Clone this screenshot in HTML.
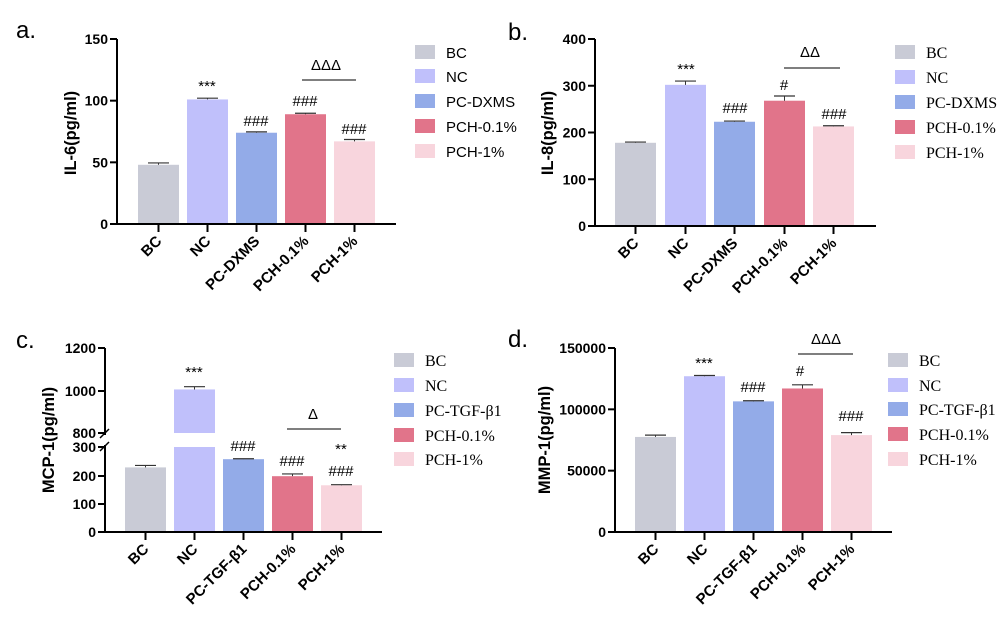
<!DOCTYPE html>
<html><head><meta charset="utf-8"><style>
html,body{margin:0;padding:0;background:#fff;}
svg{display:block;}
</style></head><body>
<svg id="s" width="1008" height="621" xmlns="http://www.w3.org/2000/svg"></svg>
<script>
const S=document.getElementById('s');let h='';
const C=['#c9cbd6','#c0c0fb','#93abe8','#e1748a','#f8d5dd'];
const SANS='font-family="Liberation Sans, Arial, sans-serif"';
const SERIF='font-family="Liberation Serif, Times New Roman, serif"';
function panel(o){
 const ax=o.ax,y0=o.y0;
 o.vals.forEach((v,i)=>{
  const x=o.bx[i],w=41;const top=o.Y(v);
  if(o.brk&&i===1){
   h+=`<rect x="${x}" y="${top}" width="${w}" height="${433-top}" fill="${C[i]}"/>`;
   h+=`<rect x="${x}" y="447" width="${w}" height="${y0-447}" fill="${C[i]}"/>`;
  } else h+=`<rect x="${x}" y="${top}" width="${w}" height="${y0-top}" fill="${C[i]}"/>`;
  const et=o.Y(v+o.err[i]);
  h+=`<line x1="${x+20.5}" y1="${top}" x2="${x+20.5}" y2="${et}" stroke="#333" stroke-width="1"/><line x1="${x+10}" y1="${et}" x2="${x+31}" y2="${et}" stroke="#333" stroke-width="1.2"/>`;
  const cx=x+20.5;
  h+=`<line x1="${cx}" y1="${y0}" x2="${cx}" y2="${y0+8}" stroke="#000" stroke-width="2"/>`;
  h+=`<text transform="translate(${cx+4},${y0+18}) rotate(-45)" text-anchor="end" ${SANS} font-weight="bold" font-size="15">${o.cats[i]}</text>`;
 });
 if(o.brk){
  h+=`<line x1="${ax}" y1="${o.top}" x2="${ax}" y2="435" stroke="#000" stroke-width="2"/>`;
  h+=`<line x1="${ax}" y1="445" x2="${ax}" y2="${y0}" stroke="#000" stroke-width="2"/>`;
  h+=`<line x1="${ax-5}" y1="438" x2="${ax+4}" y2="429" stroke="#000" stroke-width="1.5"/><line x1="${ax-5}" y1="451" x2="${ax+4}" y2="442" stroke="#000" stroke-width="1.5"/>`;
 } else h+=`<line x1="${ax}" y1="${o.top}" x2="${ax}" y2="${y0}" stroke="#000" stroke-width="2"/>`;
 h+=`<line x1="${ax-7}" y1="${y0}" x2="${o.xr}" y2="${y0}" stroke="#000" stroke-width="2"/>`;
 o.ticks.forEach(t=>{const y=t[1];
  h+=`<line x1="${ax-7}" y1="${y}" x2="${ax}" y2="${y}" stroke="#000" stroke-width="2"/>`;
  h+=`<text x="${ax-9}" y="${y+5}" text-anchor="end" ${SANS} font-weight="bold" font-size="14">${t[0]}</text>`;});
 h+=`<text transform="translate(${o.ylx},${o.yly}) rotate(-90)" text-anchor="middle" ${SANS} font-weight="bold" font-size="16.5">${o.ylab}</text>`;
 h+=`<text x="${o.lx}" y="${o.ly}" ${SANS} font-size="24">${o.letter}</text>`;
 o.ann.forEach(a=>{h+=`<text x="${a[0]}" y="${a[1]}" text-anchor="middle" ${SANS} font-size="${a[3]||15}">${a[2]}</text>`;});
 h+=`<line x1="${o.sig[0]}" y1="${o.sig[2]}" x2="${o.sig[1]}" y2="${o.sig[2]}" stroke="#333" stroke-width="1.2"/>`;
 o.leg.forEach((t,i)=>{const y=o.lgy[i];
  h+=`<rect x="${o.lgx}" y="${y-7}" width="20" height="14" fill="${C[i]}"/>`;
  h+=`<text x="${o.lgx+31}" y="${y+6}" ${o.serif?SERIF:SANS} font-size="${o.serif?16:15}">${t}</text>`;});
}
const cats1=['BC','NC','PC-DXMS','PCH-0.1%','PCH-1%'];
const cats2=['BC','NC','PC-TGF-β1','PCH-0.1%','PCH-1%'];
{const Y=v=>224-v*185/150;
panel({ax:117,y0:224,top:39,xr:396,Y,vals:[48,101,74,89,67],err:[1.5,1,0.7,0.8,1.5],bx:[138,187,236,285,334],cats:cats1,
ticks:[[0,224],[50,Y(50)],[100,Y(100)],[150,39]],ylab:'IL-6(pg/ml)',ylx:76,yly:133,letter:'a.',lx:16,ly:38,
ann:[[207,91,'***'],[256,126,'###'],[305,106,'###'],[354,134,'###'],[326,70,'ΔΔΔ',15]],sig:[302,356,80],
leg:cats1,lgx:415,lgy:[52,76,101,126,151],serif:false});}
{const Y=v=>226-v*187/400;
panel({ax:595,y0:226,top:39,xr:876,Y,vals:[178,302,223,268,213],err:[1.5,8,1.5,10,1.5],bx:[615,665,714,764,813],cats:cats1,
ticks:[[0,226],[100,Y(100)],[200,Y(200)],[300,Y(300)],[400,39]],ylab:'IL-8(pg/ml)',ylx:553,yly:133,letter:'b.',lx:508,ly:40,
ann:[[686,74,'***'],[735,113,'###'],[784,90,'#'],[834,119,'###'],[810,57,'ΔΔ',15]],sig:[784,840,68],
leg:cats1,lgx:895,lgy:[52,77,102,127,152],serif:true});}
{const Y=v=>v<=300?532-v*85/300:433-(v-800)*85/400;
panel({ax:105,y0:532,top:348,xr:382,Y,brk:true,vals:[228,1005,257,197,165],err:[7,13,1.5,8,2],bx:[125,174,223,272,321],cats:cats2,
ticks:[[0,532],[100,504],[200,476],[300,447],[800,433],[1000,391],[1200,348]],ylab:'MCP-1(pg/ml)',ylx:54,yly:440,letter:'c.',lx:16,ly:348,
ann:[[194,377,'***'],[243,451,'###'],[292,466,'###'],[341,454,'**'],[341,476,'###'],[313,419,'Δ',15]],sig:[287,341,429],
leg:cats2,lgx:394,lgy:[360,385,410,435,459],serif:true});}
{const Y=v=>532-v*184/150000;
panel({ax:615,y0:532,top:348,xr:892,Y,vals:[77500,127000,106500,117000,79000],err:[1500,600,500,3000,2000],bx:[635,684,733,782,831],cats:cats2,
ticks:[[0,532],[50000,Y(50000)],[100000,Y(100000)],[150000,348]],ylab:'MMP-1(pg/ml)',ylx:550,yly:440,letter:'d.',lx:508,ly:347,
ann:[[704,368,'***'],[753,392,'###'],[800,376,'#'],[851,421,'###'],[826,344,'ΔΔΔ',15]],sig:[798,853,354],
leg:cats2,lgx:888,lgy:[360,385,409,434,459],serif:true});}
S.innerHTML=h;
</script>
</body></html>
